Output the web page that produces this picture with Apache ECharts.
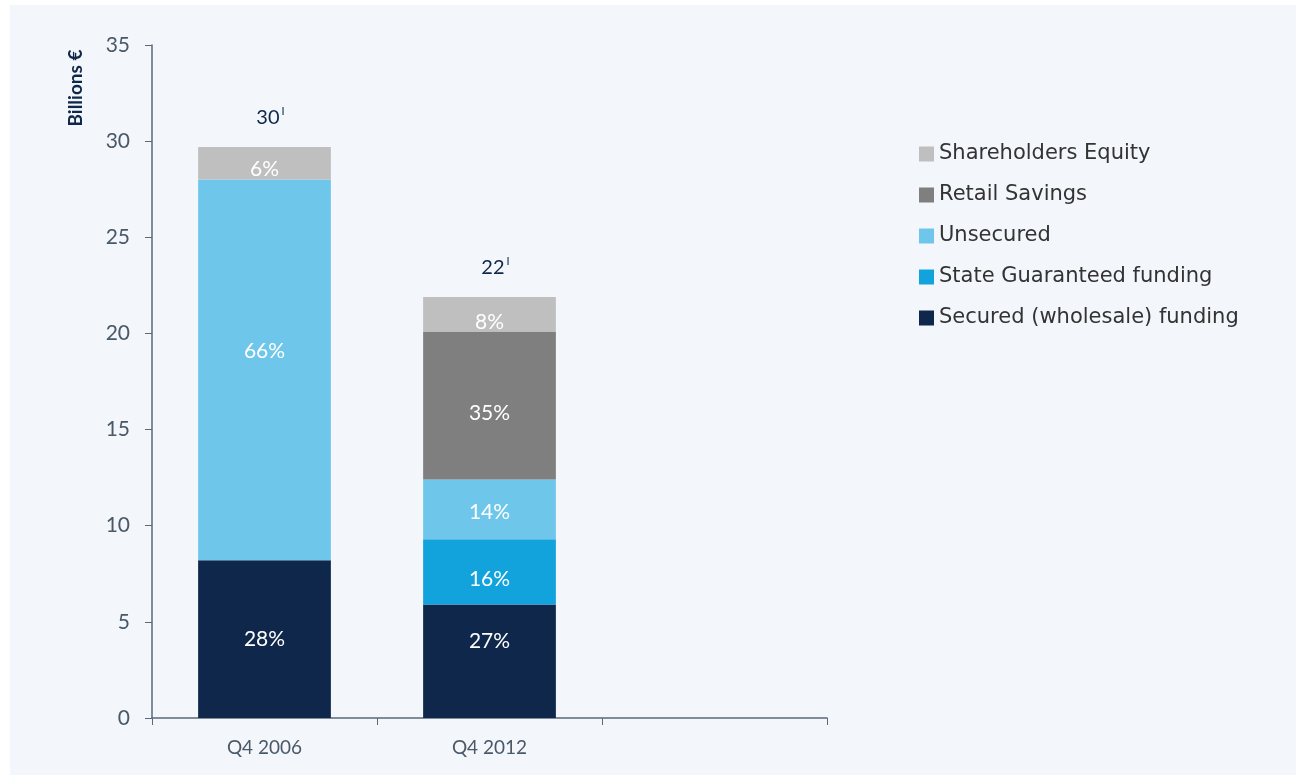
<!DOCTYPE html>
<html>
<head>
<meta charset="utf-8">
<script src="https://cdn.jsdelivr.net/npm/echarts@6/dist/echarts.min.js"></script>
<style>
  html, body { margin: 0; padding: 0; background: #ffffff; }
  #chart { position: absolute; left: 10px; top: 5px; width: 1286px; height: 770px; }
</style>
</head>
<body>
<div id="chart"></div>
<script>
const categories = ['Q4 2006', 'Q4 2012', '']
const secured = [8.2, 5.9, null]
const stateGuaranteed = [0, 3.4, null]
const unsecured = [19.8, 3.1, null]
const retail = [0, 7.7, null]
const equity = [1.7, 1.8, null]
const totals = [30, 22]
const securedPct = ['28%', '27%']
const statePct = ['', '16%']
const unsecuredPct = ['66%', '14%']
const retailPct = ['', '35%']
const equityPct = ['6%', '8%']
const yTicks = [0, 5, 10, 15, 20, 25, 30, 35]

const chart = echarts.init(document.getElementById('chart'))

// vertical nudges of the % labels, as placed in the original slide
const nudge = {
  secured: [0, -20],
  state: [0, 7],
  unsecured: [-19, 3],
  retail: [0, 8],
  equity: [6, 8]
}

const mkSeries = (name, data, color, pcts, dy) => ({
  name: name,
  type: 'bar',
  stack: 'total',
  barWidth: '59%',
  data: data.map((v, i) => ({
    value: v,
    label: { offset: [0, dy[i] || 0] }
  })),
  itemStyle: { color: color },
  label: {
    show: true,
    position: 'inside',
    color: '#ffffff',
    fontFamily: 'Lato',
    fontSize: 21,
    formatter: (p) => pcts[p.dataIndex] || ''
  }
})

const options = {
  backgroundColor: '#f3f6fa',
  animation: false,
  grid: { left: 142, top: 40, width: 675, height: 673 },
  legend: {
    orient: 'vertical',
    left: 904,
    top: 133,
    itemWidth: 15,
    itemHeight: 15,
    itemGap: 19,
    icon: 'rect',
    data: ['Shareholders Equity', 'Retail Savings', 'Unsecured', 'State Guaranteed funding', 'Secured (wholesale) funding'],
    textStyle: { fontFamily: 'DejaVu Sans', fontSize: 21, lineHeight: 22, color: '#333333' }
  },
  graphic: [
    {
      type: 'text',
      x: 66,
      y: 83,
      rotation: Math.PI / 2,
      style: {
        text: 'Billions €',
        fontFamily: 'Lato',
        fontWeight: 'bold',
        fontSize: 19,
        fill: '#0e274a',
        align: 'center',
        verticalAlign: 'middle'
      }
    }
  ],
  xAxis: {
    type: 'category',
    data: categories,
    axisLine: { lineStyle: { color: '#5a6878', width: 1.5 } },
    axisTick: { show: true, length: 7, lineStyle: { color: '#5a6878' } },
    axisLabel: { color: '#4a5868', fontFamily: 'Lato', fontSize: 19, margin: 20 }
  },
  yAxis: {
    type: 'value',
    min: 0,
    max: yTicks[yTicks.length - 1],
    interval: 5,
    axisLine: { show: true, lineStyle: { color: '#5a6878', width: 1.5 } },
    axisTick: { show: true, length: 7, lineStyle: { color: '#5a6878' } },
    axisLabel: { color: '#4a5868', fontFamily: 'Lato', fontSize: 21, margin: 22 },
    splitLine: { show: false }
  },
  series: [
    mkSeries('Secured (wholesale) funding', secured, '#0e274a', securedPct, nudge.secured),
    mkSeries('State Guaranteed funding', stateGuaranteed, '#12a3dd', statePct, nudge.state),
    mkSeries('Unsecured', unsecured, '#6ec7eb', unsecuredPct, nudge.unsecured),
    mkSeries('Retail Savings', retail, '#7f7f7f', retailPct, nudge.retail),
    mkSeries('Shareholders Equity', equity, '#bfbfbf', equityPct, nudge.equity),
    {
      name: 'Total',
      type: 'bar',
      stack: 'total',
      barWidth: '59%',
      data: totals.map(() => 0),
      itemStyle: { color: 'transparent' },
      label: {
        show: true,
        position: 'top',
        distance: 18,
        offset: [6, 0],
        formatter: (p) => '{v|' + totals[p.dataIndex] + '}{s|I}',
        rich: {
          v: { fontFamily: 'Lato', fontSize: 20, color: '#0e274a' },
          s: { fontFamily: 'Lato', fontSize: 11, color: '#0e274a', verticalAlign: 'top', padding: [0, 0, 12, 2] }
        }
      }
    }
  ]
}

chart.setOption(options)
</script>
</body>
</html>
